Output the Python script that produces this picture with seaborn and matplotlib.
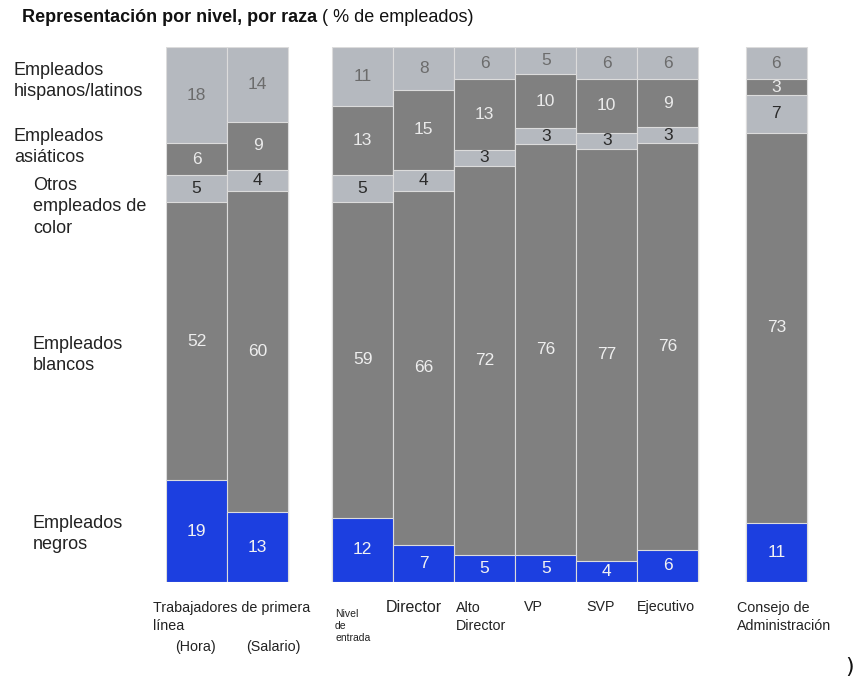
import numpy as np
import pandas as pd
import matplotlib
matplotlib.use('Agg')
import matplotlib.pyplot as plt
import seaborn as sns

niveles = ['Hora', 'Salario', 'Nivel de entrada', 'Director', 'Alto Director',
           'VP', 'SVP', 'Ejecutivo', 'Consejo de Administración']
negros = [19, 13, 12, 7, 5, 5, 4, 6, 11]
blancos = [52, 60, 59, 66, 72, 76, 77, 76, 73]
otros = [5, 4, 5, 4, 3, 3, 3, 3, 7]
asiaticos = [6, 9, 13, 15, 13, 10, 10, 9, 3]
hispanos = [18, 14, 11, 8, 6, 5, 6, 6, 6]

# posiciones de las barras (con huecos entre grupos)
posiciones = [0, 1, 2.72, 3.72, 4.72, 5.72, 6.72, 7.72, 9.5]

azul = '#1c3fe0'
gris_osc = '#808080'
gris_cl = '#b5b9bf'

capas = [
    ('negros', negros, azul, '#f2f2f2'),
    ('blancos', blancos, gris_osc, '#eeeeee'),
    ('otros', otros, gris_cl, '#2b2b2b'),
    ('asiaticos', asiaticos, gris_osc, '#eaeaea'),
    ('hispanos', hispanos, gris_cl, '#6c6c6c'),
]

df = pd.DataFrame({c[0]: c[1] for c in capas})
df['nivel'] = niveles
df['pos'] = posiciones
cols = [c[0] for c in capas]
total = df[cols].sum(axis=1)
# cada barra llena el 100 %
norm = df[cols].div(total, axis=0) * 100
acum = norm.cumsum(axis=1)

sns.set_style('white')
plt.rcParams['font.family'] = ['Liberation Sans', 'DejaVu Sans']

fig = plt.figure(figsize=(8.56, 6.81), dpi=100)
W, H = 856, 681
x0, x1 = 166, 810
y_top, y_bot = 47, 582
ax = fig.add_axes([x0 / W, 1 - y_bot / H, (x1 - x0) / W, (y_bot - y_top) / H])

# dibujar de arriba hacia abajo (acumulados)
for nombre, _, color, _ in reversed(capas):
    sns.barplot(x=df['pos'], y=acum[nombre], native_scale=True, width=1,
                color=color, saturation=1, edgecolor='#dcdcdc', linewidth=0.8,
                errorbar=None, ax=ax)

ax.set_xlim(-0.5, 10.05)
ax.set_ylim(0, 100)
ax.axis('off')

# etiquetas de valores
for nombre, vals, color, tcolor in capas:
    base = acum[nombre] - norm[nombre]
    for p, v, b, h in zip(posiciones, vals, base, norm[nombre]):
        ax.text(p, b + h / 2, str(v), ha='center', va='center',
                fontsize=12.5, color=tcolor)


def ftext(x, y, s, **kw):
    return fig.text(x / W, 1 - y / H, s, **kw)


# leyenda a la izquierda
kw = dict(fontsize=13, color='#222222', va='center', linespacing=1.38)
ftext(14, 81, 'Empleados\nhispanos/latinos', **kw)
ftext(14, 147, 'Empleados\nasiáticos', **kw)
ftext(33, 207, 'Otros\nempleados de\ncolor', **kw)
ftext(33, 355, 'Empleados\nblancos', **kw)
ftext(33, 534, 'Empleados\nnegros', **kw)

# etiquetas inferiores
kb = dict(fontsize=10.3, color='#222222', va='center', linespacing=1.3)
ftext(153, 617, 'Trabajadores de primera\nlínea', **kb)
ftext(175, 647, '(Hora)', **kb)
ftext(246, 647, '(Salario)', **kb)
ftext(335, 626, 'Nivel\nde\nentrada', fontsize=7.5, color='#222222',
      va='center', linespacing=1.25)
ftext(386, 608, 'Director', fontsize=11.5, color='#222222', va='center')
ftext(456, 617, 'Alto\nDirector', **kb)
ftext(524, 607, 'VP', **kb)
ftext(586, 607, 'SVP', **kb)
ftext(637, 607, 'Ejecutivo', **kb)
ftext(737, 617, 'Consejo de\nAdministración', **kb)
ftext(845, 667, ')', fontsize=16, color='#111111', va='center',
      family=['DejaVu Sans'])

# título
t1 = ftext(22, 18, 'Representación por nivel, por raza', fontsize=13,
           fontweight='bold', color='#111111', va='center')
fig.canvas.draw()
bb = t1.get_window_extent()
fig.text(bb.x1 / W, 1 - 18 / H, ' ( % de empleados)', fontsize=13,
         color='#111111', va='center')

fig.savefig('out.png', dpi=100)
